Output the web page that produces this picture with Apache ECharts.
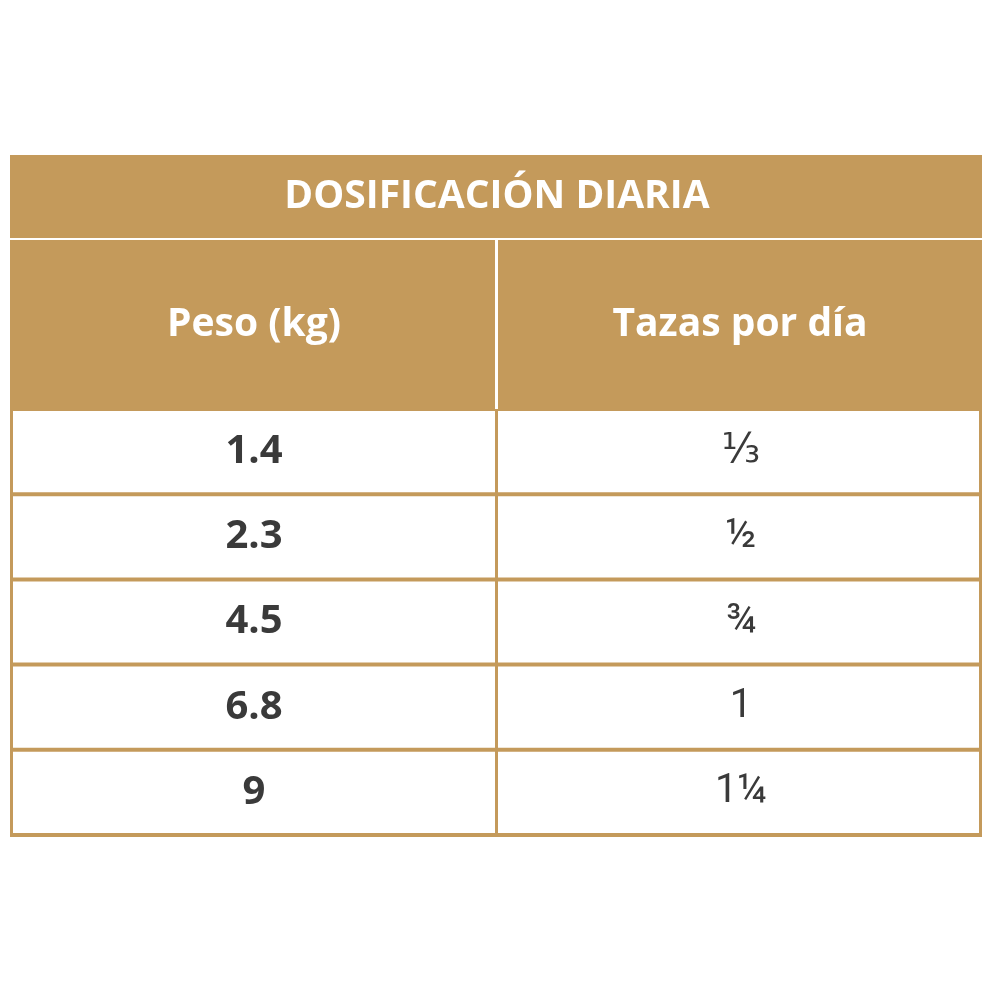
<!DOCTYPE html>
<html><head><meta charset="utf-8">
<script src="https://cdn.jsdelivr.net/npm/echarts@6/dist/echarts.min.js"></script>
<style>html,body{margin:0;background:#fff}#c{width:1000px;height:1000px}</style>
</head><body><div id="c"></div>
<script>
const title = "DOSIFICACIÓN DIARIA";
const headers = ["Peso (kg)", "Tazas por día"];
const pesos = ["1.4", "2.3", "4.5", "6.8", "9"];
const tazas = ["⅓", "½", "¾", "1", "1¼"];

const gold = "#C49A5B";
const L = 10, R = 982, M = 496;
const F = '"Open Sans", Roboto, sans-serif';
const els = [];
els.push({type:'rect',shape:{x:L,y:155,width:R-L,height:83},style:{fill:gold}});
els.push({type:'text',style:{text:title,x:497,y:197,align:'center',verticalAlign:'middle',
  font:'bold 39px '+F,fill:'#fff'}});
els.push({type:'rect',shape:{x:L,y:240,width:R-L,height:169},style:{fill:gold}});
els.push({type:'rect',shape:{x:M-1,y:240,width:3,height:169},style:{fill:'#fff'}});
headers.forEach((h,i)=>{
  const cx = i===0 ? 254 : 740;
  els.push({type:'text',style:{text:h,x:cx,y:325,align:'center',verticalAlign:'middle',
    font:'bold 39px '+F,fill:'#fff'}});
});
const top0 = 409, rh = 85.2;
els.push({type:'rect',shape:{x:L,y:top0,width:R-L,height:rh*pesos.length+2},style:{fill:gold}});
pesos.forEach((p,i)=>{
  const y = top0 + i*rh;
  els.push({type:'rect',shape:{x:L+3,y:y+2,width:M-L-4,height:rh-4},style:{fill:'#fff'}});
  els.push({type:'rect',shape:{x:M+2,y:y+2,width:R-M-5,height:rh-4},style:{fill:'#fff'}});
  els.push({type:'text',style:{text:p,x:254,y:y+rh/2,align:'center',verticalAlign:'middle',
    font:'bold 40px '+F,fill:'#3a3a3a'}});
  els.push({type:'text',style:{text:tazas[i],x:741,y:y+rh/2,align:'center',verticalAlign:'middle',
    font:'40px Roboto, "DejaVu Sans", sans-serif',fill:'#3a3a3a'}});
});
const chart = echarts.init(document.getElementById('c'));
chart.setOption({animation:false,graphic:{elements:els}});
</script></body></html>
